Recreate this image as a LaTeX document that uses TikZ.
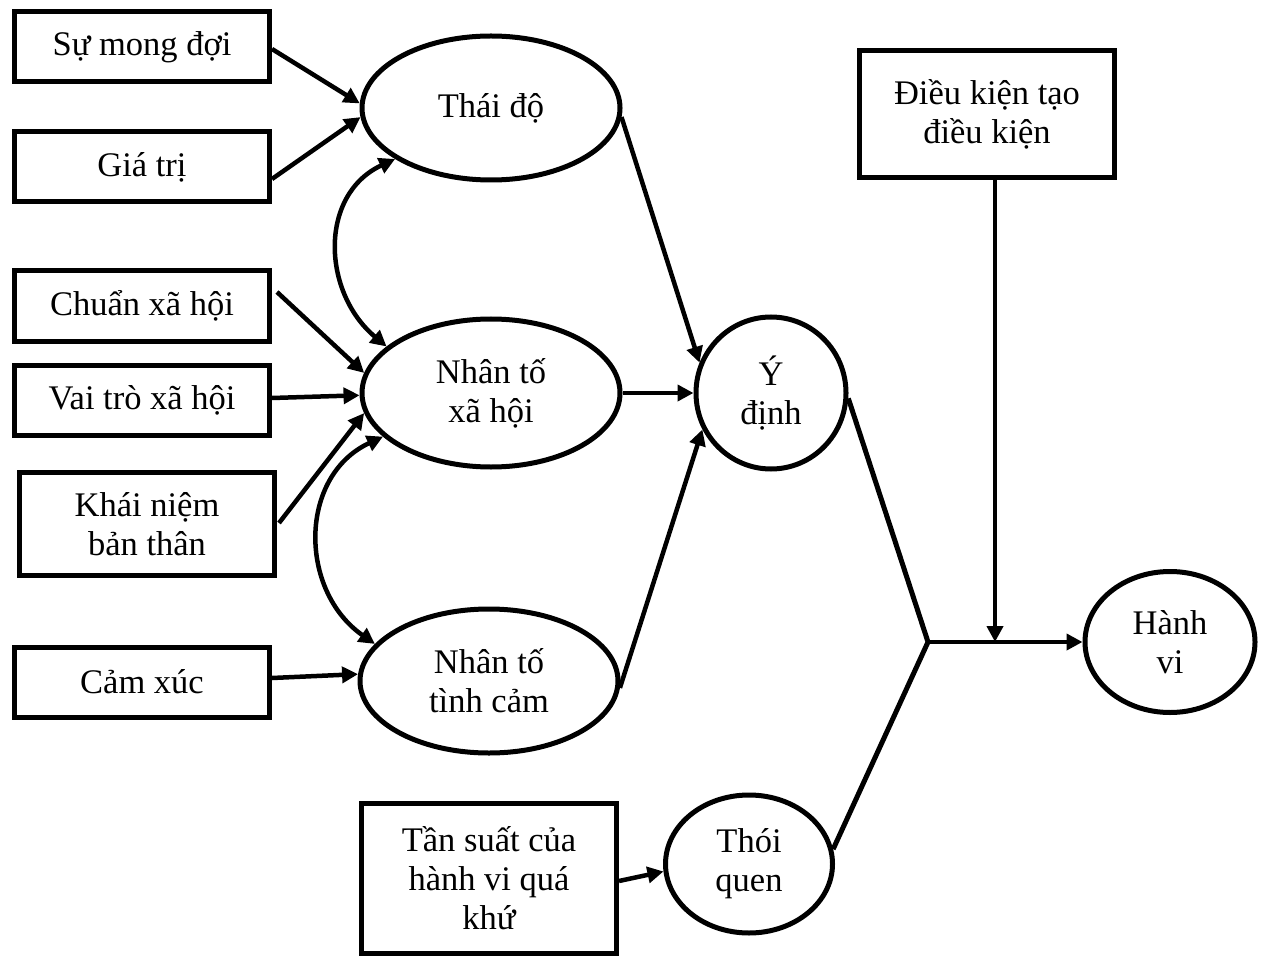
\documentclass[tikz,border=0pt]{standalone}
\usepackage{fontspec}
\setmainfont{Liberation Serif}
\usetikzlibrary{arrows.meta,shapes.geometric}
\begin{document}
\begin{tikzpicture}[x=1pt,y=-1pt,
  every node/.style={font=\fontsize{34.5}{39}\selectfont, align=center, inner sep=0pt},
  box/.style={draw, line width=5pt, rectangle, minimum width=255pt, minimum height=70pt},
  oval/.style={draw, line width=5pt, ellipse, minimum width=258pt, minimum height=144pt},
  link/.style={line width=5pt},
  arr/.style={line width=4.5pt, -{Triangle[length=16pt,width=16pt]}},
  dblarr/.style={line width=4.5pt, {Triangle[length=16pt,width=16pt]}-{Triangle[length=16pt,width=16pt]}}
]
\useasboundingbox (0,0) rectangle (1268,957);

% input factors
\node[box] (smd) at (142,47) {Sự mong đợi};
\node[box] (gt)  at (142,167) {Giá trị};
\node[box] (cxh) at (142,306) {Chuẩn xã hội};
\node[box] (vt)  at (142,400) {Vai trò xã hội};
\node[box, minimum height=103pt] (kn) at (147,524) {Khái niệm\\bản thân};
\node[box] (cx)  at (142,682) {Cảm xúc};
\node[box, minimum height=150pt] (ts) at (489,878) {Tần suất của\\hành vi quá\\khứ};
\node[box, minimum height=127pt] (dk) at (987,114) {Điều kiện tạo\\điều kiện};

% latent constructs
\node[oval] (thai) at (491,108) {Thái độ};
\node[oval, minimum height=148pt] (xh) at (491,393) {Nhân tố\\xã hội};
\node[oval] (tc) at (489,681) {Nhân tố\\tình cảm};
\node[oval, minimum width=150pt, minimum height=152pt] (yd) at (771,393) {Ý\\định};
\node[oval, minimum width=167pt, minimum height=138pt] (tq) at (749,864) {Thói\\quen};
\node[oval, minimum width=170pt, minimum height=141pt] (hv) at (1170,642) {Hành\\vi};

\coordinate (j) at (928,642);
\coordinate (m) at (995,642);

% arrows into the constructs
\draw[arr] ([yshift=-2pt]smd.east) -- (thai.178);
\draw[arr] ([yshift=-12pt]gt.east) -- (thai.184);
\draw[arr] ([xshift=5pt,yshift=14pt]cxh.east) -- (xh.171);
\draw[arr] ([yshift=2pt]vt.east) -- (xh.181);
\draw[arr] ([xshift=2pt,yshift=1pt]kn.east) -- (xh.189);
\draw[arr] ([yshift=4pt]cx.east) -- (tc.177);

% correlations between constructs
\draw[dblarr] (thai.208) to[out=205,in=140,looseness=1.15] (xh.156);
\draw[dblarr] (xh.202) to[out=205,in=145,looseness=1.15] (tc.162);

% paths to intention
\draw[arr] (thai.356) -- (yd.157);
\draw[arr] (xh.east) -- (yd.west);
\draw[arr] (tc.357) -- (yd.208);
\draw[arr] ([yshift=-3pt]ts.east) -- (tq.185);

% paths to behaviour
\draw[link, line join=round] (yd.356) -- (j) -- (tq.10);
\draw[arr] (j) -- (hv.west);
\draw[arr] ([xshift=8pt]dk.south) -- (m);
\end{tikzpicture}
\end{document}
